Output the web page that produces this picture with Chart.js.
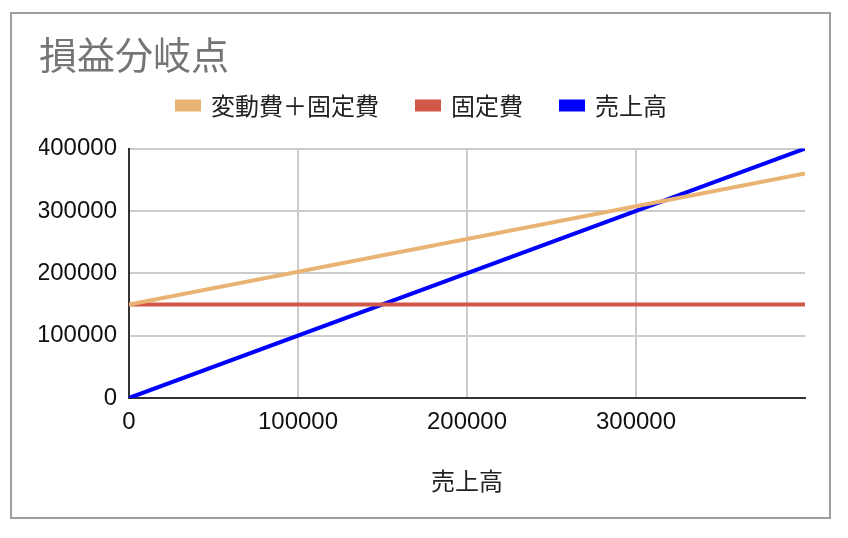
<!DOCTYPE html>
<html>
<head>
<meta charset="utf-8">
<script src="https://cdn.jsdelivr.net/npm/chart.js@4.4.0/dist/chart.umd.min.js"></script>
<style>
  body { margin: 0; background: #fff; }
  #frame {
    position: absolute; left: 10px; top: 12px;
    width: 817px; height: 503px;
    border: 2px solid #9e9e9e;
  }
  #chart { display: block; }
</style>
</head>
<body>
<div id="frame"><canvas id="chart" width="817" height="503"></canvas></div>
<script>
// datos del gráfico
const uriage = [0, 400000];                 // 売上高 (eje X)
const hendoKotei = [150000, 360000];        // 変動費＋固定費
const koteiHi = [150000, 150000];           // 固定費
const uriageLine = [0, 400000];             // 売上高
const tickVals = [0, 100000, 200000, 300000, 400000];

const fontJP = '"Noto Sans CJK JP", "Liberation Sans", Arial, sans-serif';
const fontNum = '"Liberation Sans", Arial, sans-serif';

function pts(ys) {
    return uriage.map((x, i) => ({ x: x, y: ys[i] }));
}

const ctx = document.getElementById('chart').getContext('2d');
new Chart(ctx, {
    type: 'line',
    data: {
        datasets: [
            { label: '変動費＋固定費', data: pts(hendoKotei), borderColor: '#e9b473', backgroundColor: '#e9b473', borderWidth: 4 },
            { label: '固定費', data: pts(koteiHi), borderColor: '#d2594a', backgroundColor: '#d2594a', borderWidth: 4 },
            { label: '売上高', data: pts(uriageLine), borderColor: '#0000ff', backgroundColor: '#0000ff', borderWidth: 4 }
        ]
    },
    options: {
        responsive: false,
        animation: false,
        elements: { point: { radius: 0 }, line: { tension: 0 } },
        layout: { padding: { left: 27, right: 24, top: 0, bottom: 0 } },
        plugins: {
            tooltip: { enabled: false },
            title: {
                display: true,
                text: '損益分岐点',
                align: 'start',
                color: '#757575',
                font: { family: fontJP, size: 38, weight: 'normal' },
                padding: { top: 18, bottom: -22 }
            },
            legend: {
                position: 'top',
                labels: {
                    color: '#222',
                    boxWidth: 22,
                    boxHeight: 8,
                    padding: 38,
                    font: { family: fontJP, size: 24 }
                }
            }
        },
        scales: {
            x: {
                type: 'linear',
                min: 0, max: 400000,
                afterBuildTicks: axis => { axis.ticks = tickVals.map(v => ({ value: v })); },
                afterFit: axis => { axis.height = 119; },
                ticks: {
                    color: '#111',
                    maxRotation: 0,
                    padding: 10,
                    font: { family: fontNum, size: 24 },
                    callback: v => (v === 400000 ? null : String(v))
                },
                grid: { color: '#cccccc', lineWidth: 2, drawTicks: false },
                border: { color: '#333', width: 2 },
                title: {
                    display: true,
                    text: '売上高',
                    color: '#222',
                    font: { family: fontJP, size: 24 },
                    padding: { top: 0, bottom: 22 }
                }
            },
            // espacio entre la leyenda y el gráfico
            espacio: {
                type: 'linear',
                axis: 'x',
                position: 'top',
                afterFit: axis => { axis.height = 21; },
                ticks: { display: false },
                grid: { display: false },
                border: { display: false }
            },
            y: {
                min: 0, max: 400000,
                afterBuildTicks: axis => { axis.ticks = tickVals.map(v => ({ value: v })); },
                afterFit: axis => { axis.width = 90; },
                ticks: {
                    color: '#111',
                    padding: 12,
                    font: { family: fontNum, size: 24 },
                    callback: v => String(v)
                },
                grid: { color: '#cccccc', lineWidth: 2, drawTicks: false },
                border: { color: '#333', width: 2 }
            }
        }
    }
});
</script>
</body>
</html>
